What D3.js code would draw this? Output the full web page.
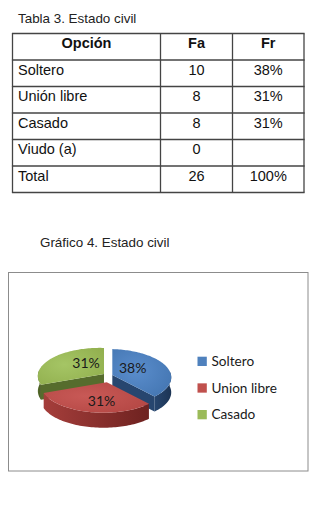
<!DOCTYPE html>
<html><head><meta charset="utf-8">
<script src="https://cdn.jsdelivr.net/npm/d3@7"></script>
<style>
html,body{margin:0;padding:0;background:#fff;}
svg{display:block;}
</style></head>
<body>
<svg id="c" width="318" height="518"></svg>
<script>
// ---- data ----
const tableTitle = "Tabla 3. Estado civil";
const tableHeader = ["Opción", "Fa", "Fr"];
const categories = ["Soltero", "Unión libre", "Casado", "Viudo (a)", "Total"];
const faValues = ["10", "8", "8", "0", "26"];
const frValues = ["38%", "31%", "31%", "", "100%"];

const chartTitle = "Gráfico 4. Estado civil";
const pieCategories = ["Soltero", "Union libre", "Casado"];
const pieValues = [10, 8, 8];
const pieLabels = ["38%", "31%", "31%"];
const pieColors = ["#4F81BD", "#C0504D", "#9BBB59"];
const pieTopLight = ["#5a8dcc", "#c85956", "#a5c565"];
const pieTopDark = ["#4476b2", "#b44744", "#92b04f"];
const pieWallLight = ["#27466f", "#a53e3b", "#566c2d"];
const pieWallDark = ["#1c3454", "#6e2220", "#46581f"];

const svg = d3.select("#c");

// ---- table ----
const colX = [12.5, 160.5, 232.5, 304];
const rowY = [33.5, 60, 86.5, 113, 139.5, 166, 192.5];
const font = "'Liberation Sans', Arial, sans-serif";

svg.append("text").attr("x", 18).attr("y", 22.7).attr("font-family", font)
  .attr("font-size", 13.4).attr("fill", "#222").text(tableTitle);

const rows = [tableHeader].concat(categories.map((c, i) => [c, faValues[i], frValues[i]]));
const tbl = svg.append("g");
rows.forEach((r, i) => {
  const y = rowY[i] + 14.6;
  r.forEach((v, j) => {
    const t = tbl.append("text").attr("font-family", font).attr("font-size", 14.5)
      .attr("fill", "#111").attr("y", y).text(v);
    if (i === 0) t.attr("font-weight", "bold");
    if (j === 0 && i > 0) t.attr("x", 18);
    else t.attr("x", (colX[j] + colX[j + 1]) / 2).attr("text-anchor", "middle");
  });
});
rowY.forEach(y => tbl.append("line").attr("x1", colX[0] - 0.6).attr("x2", colX[3] + 0.6).attr("y1", y).attr("y2", y)
  .attr("stroke", "#444").attr("stroke-width", 1.3));
colX.forEach(x => tbl.append("line").attr("x1", x).attr("x2", x).attr("y1", rowY[0]).attr("y2", rowY[6])
  .attr("stroke", "#444").attr("stroke-width", 1.3));

// ---- chart ----
svg.append("text").attr("x", 40).attr("y", 247).attr("font-family", font)
  .attr("font-size", 13.4).attr("fill", "#222").text(chartTitle);

svg.append("rect").attr("x", 8.5).attr("y", 272.5).attr("width", 299.5).attr("height", 198.5)
  .attr("fill", "#fff").attr("stroke", "#8c8c8c").attr("stroke-width", 1);

const defs = svg.append("defs");
pieColors.forEach((c, i) => {
  const rg = defs.append("radialGradient").attr("id", "top" + i).attr("cx", "40%").attr("cy", "45%").attr("r", "70%");
  rg.append("stop").attr("offset", "0%").attr("stop-color", pieTopLight[i]);
  rg.append("stop").attr("offset", "100%").attr("stop-color", pieTopDark[i]);
  const lg = defs.append("linearGradient").attr("id", "wall" + i).attr("x1", "0%").attr("x2", "100%").attr("y1", "0%").attr("y2", "0%");
  lg.append("stop").attr("offset", "0%").attr("stop-color", pieWallLight[i]);
  lg.append("stop").attr("offset", "100%").attr("stop-color", pieWallDark[i]);
});

// projection parameters (elevated view with mild perspective)
const CX = 107.9, CY = 377, RX = 62.35, RY = 28.2, PA = 0.078, PB = 0.0585;
const DEPTH = 15, EXPLODE = 4.72, EXPLODE_Y = 1.15;
const pie = d3.pie().sort(null).startAngle(0).endAngle(2 * Math.PI);
const arcs = pie(pieValues);

function pt(c, t, r, dz) {
  const s = 1 + PA * (-Math.cos(t)) + PB * (-Math.sin(t));
  return [c[0] + r * RX * Math.sin(t) * s, c[1] - r * RY * Math.cos(t) * s + (dz || 0)];
}
function rim(c, t0, t1, dz) {
  const n = Math.max(2, Math.ceil(Math.abs(t1 - t0) / 0.03));
  return d3.range(n + 1).map(k => pt(c, t0 + (t1 - t0) * k / n, 1, dz));
}
const line = d3.line();

const slices = arcs.map((a, i) => {
  const mid = (a.startAngle + a.endAngle) / 2;
  const c = [CX + EXPLODE * Math.sin(mid), CY - EXPLODE * EXPLODE_Y * Math.cos(mid)];
  return { a, i, mid, c };
});

const order = slices.slice().sort((p, q) => p.c[1] - q.c[1]);
const pg = svg.append("g");
order.forEach(s => {
  const { a, i, c } = s;
  const a0 = a.startAngle, a1 = a.endAngle;
  const g = pg.append("g");
  // radial cut faces facing the viewer
  [[a0, a0 - Math.PI / 2], [a1, a1 + Math.PI / 2]].forEach(([t, n]) => {
    if (Math.cos(n) < -1e-6) {
      const p1 = pt(c, t, 1), p2 = pt(c, t, 1, DEPTH);
      g.append("path").attr("d", line([c, p1, p2, [c[0], c[1] + DEPTH]]) + "Z")
        .attr("fill", pieWallLight[i]);
    }
  });
  // outer wall
  const u0 = Math.max(a0, Math.PI / 2 - 0.15), u1 = Math.min(a1, 3 * Math.PI / 2 + 0.15);
  if (u1 > u0) {
    const pts = rim(c, u0, u1, 0).concat(rim(c, u1, u0, DEPTH));
    g.append("path").attr("d", line(pts) + "Z").attr("fill", `url(#wall${i})`);
  }
  // top surface
  const pts = [c].concat(rim(c, a0, a1, 0));
  g.append("path").attr("d", line(pts) + "Z").attr("fill", `url(#top${i})`);
});

// labels
const lblFont = "Lato, 'Open Sans', sans-serif";
slices.forEach(s => {
  const x = s.c[0] + 0.35 * RX * Math.sin(s.mid);
  const y = s.c[1] - 0.7 * RY * Math.cos(s.mid);
  svg.append("text").attr("x", x).attr("y", y).attr("dy", "0.36em").attr("text-anchor", "middle")
    .attr("font-family", lblFont).attr("font-size", 14).attr("fill", "#1a1a1a")
    .text(pieLabels[s.i]);
});

// legend
const lg = svg.append("g");
const legY = d3.scalePoint().domain(pieCategories).range([366, 419.3]);
pieCategories.forEach((name, i) => {
  const y = legY(name);
  lg.append("rect").attr("x", 197.5).attr("y", y - 9.3).attr("width", 9.3).attr("height", 9.3).attr("fill", pieColors[i]);
  lg.append("text").attr("x", 211.5).attr("y", y).attr("font-family", lblFont).attr("font-size", 13.6)
    .attr("fill", "#1a1a1a").text(name);
});
</script>
</body></html>
